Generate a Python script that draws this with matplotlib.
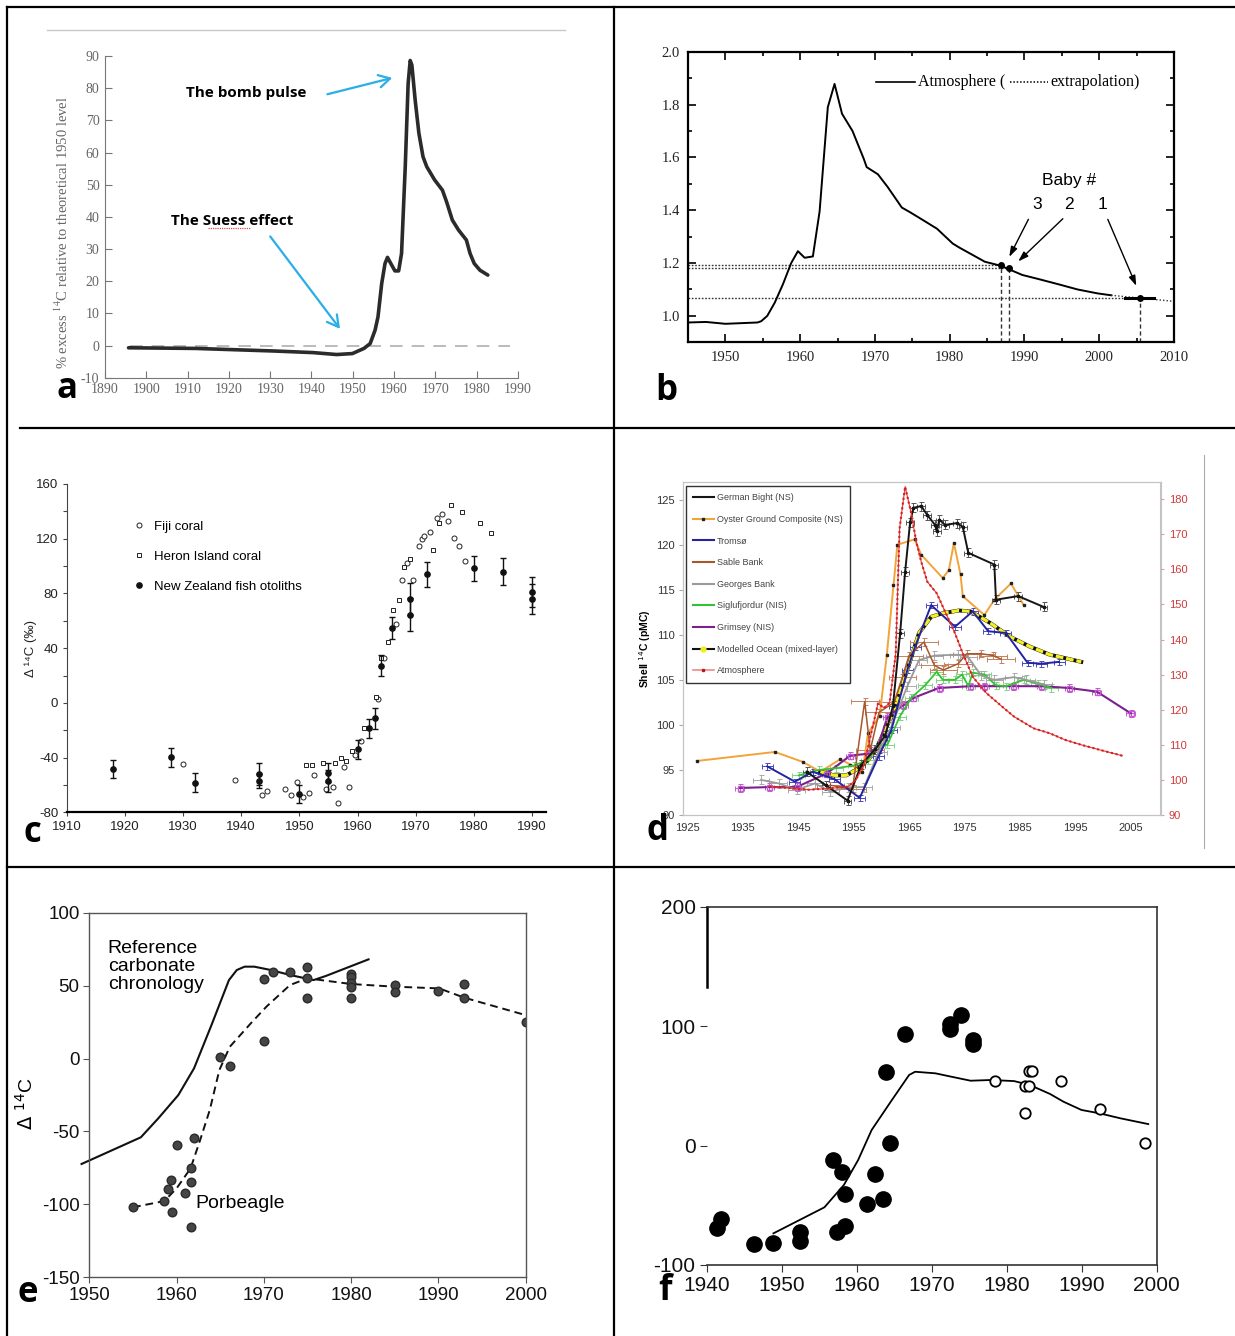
import matplotlib
matplotlib.use("Agg")
import matplotlib.pyplot as plt
from matplotlib import font_manager
from matplotlib.lines import Line2D
from matplotlib.ticker import MultipleLocator

W, H = 1235, 1336

# a: % excess 14C relative to the theoretical 1950 level
a_year = [1895.7, 1911.9, 1930.9, 1940.4, 1946.1, 1949.9, 1952.7, 1954.2, 1955.4, 1956.1,
          1957.0, 1957.8, 1958.4, 1959.2, 1960.2, 1961.1, 1961.8, 1962.7, 1963.4, 1963.9,
          1964.3, 1965.1, 1966.0, 1967.0, 1967.9, 1969.8, 1971.7, 1972.7, 1974.1, 1975.6,
          1977.5, 1978.4, 1979.4, 1980.8, 1982.7]
a_excess = [-0.7, -0.9, -1.7, -2.2, -2.8, -2.5, -0.9, 0.6, 4.8, 8.9,
            19.3, 25.5, 27.4, 25.5, 23.2, 23.2, 28.6, 55.6, 81.5, 88.6,
            87.2, 76.3, 66.0, 58.7, 55.6, 51.5, 48.3, 44.7, 39.0, 35.9,
            32.8, 28.6, 25.5, 23.4, 21.9]

# b: atmospheric 14C (fraction modern) and three babies
b_year = [1945, 1947.4, 1950, 1954.3, 1954.8, 1955.6, 1956.6, 1957.7, 1958.8, 1959.7,
          1960.6, 1961.7, 1962.6, 1963.7, 1964.6, 1965.6, 1967.0, 1968.5, 1968.9, 1970.4,
          1971.7, 1973.6, 1974.6, 1976.0, 1978.3, 1980.4, 1981.2, 1984.7, 1986.8, 1989.7,
          1991.8, 1994.5, 1997.1, 1999.8, 2001.6]
b_fm = [0.975, 0.977, 0.970, 0.975, 0.980, 1.000, 1.050, 1.120, 1.200, 1.245,
        1.220, 1.225, 1.395, 1.790, 1.878, 1.765, 1.700, 1.595, 1.563, 1.536,
        1.488, 1.410, 1.394, 1.370, 1.330, 1.274, 1.260, 1.205, 1.190, 1.155,
        1.140, 1.120, 1.100, 1.085, 1.078]
b_ext_year = [2001.6, 2010]
b_ext_fm = [1.078, 1.055]
baby_year = [2005.4, 1987.9, 1986.9]
baby_fm = [1.069, 1.182, 1.192]
baby_names = ["1", "2", "3"]

# c: Fiji coral, Heron Island coral, New Zealand fish otoliths
fiji_year = [1930, 1939, 1943.5, 1944.5, 1947.6, 1948.6, 1949.6, 1950.6, 1951.6, 1952.6,
             1954.6, 1955.7, 1956.6, 1957.6, 1958.6, 1959.6, 1960.6, 1963.5, 1964.5, 1966.6,
             1967.6, 1968.5, 1969.5, 1970.5, 1971.0, 1971.5, 1972.5, 1973.6, 1974.5, 1975.5,
             1976.5, 1977.5, 1978.5]
fiji_d14c = [-44.7, -56.4, -67.3, -64.4, -62.7, -67.3, -57.8, -68.5, -65.6, -52.7,
             -62.7, -61.7, -72.9, -47.1, -61.7, -38.1, -27.6, 2.6, 33.1, 57.7,
             89.8, 102.5, 89.8, 114.7, 119.8, 122.0, 124.9, 134.9, 137.8, 133.0,
             120.8, 114.7, 103.5]
heron_year = [1951.1, 1952.1, 1954.1, 1956.1, 1957.1, 1958.1, 1959.1, 1961.1, 1963.1, 1964.1,
              1965.2, 1966.1, 1967.1, 1968.0, 1969.1, 1973.0, 1974.0, 1976.0, 1978.0, 1981.0,
              1983.0]
heron_d14c = [-45.4, -45.4, -43.7, -44.2, -40.5, -42.2, -34.9, -18.6, 4.6, 33.1,
              44.5, 67.9, 75.2, 99.6, 105.2, 111.8, 131.3, 144.7, 139.8, 131.3,
              124.4]
oto_year = [1918, 1928, 1932, 1943, 1943, 1950, 1955, 1955, 1960, 1962,
            1963, 1964, 1966, 1969, 1969, 1972, 1980, 1985, 1990, 1990]
oto_d14c = [-48.6, -39.8, -58.3, -52.0, -57.0, -66.6, -51.0, -57.0, -34.0, -18.6,
            -11.3, 27.2, 54.5, 75.7, 64.3, 94.0, 98.4, 95.9, 80.8, 75.9]
oto_err = [6.5, 7.0, 7.0, 8.0, 5.0, 6.5, 6.8, 7.9, 7.0, 7.0,
           7.5, 7.7, 8.0, 11.7, 12.0, 9.0, 9.0, 10.0, 11.0, 10.9]

# d: shell 14C (pMC) by site; atmosphere on the right-hand axis
german_year = [1946.5, 1950.0, 1953.9, 1956.4, 1958.9, 1960.7, 1962.1, 1963.4, 1964.3, 1965.2,
               1965.8, 1967.2, 1968.3, 1969.7, 1970.0, 1970.5, 1971.5, 1973.6, 1974.7, 1975.7,
               1980.4, 1980.7, 1984.7, 1989.3]
german_pmc = [94.8, 93.3, 91.6, 95.6, 97.3, 98.8, 102.1, 110.2, 117.0, 122.5,
              124.1, 124.3, 123.3, 122.2, 121.5, 122.8, 122.2, 122.4, 122.0, 119.1,
              117.8, 113.9, 114.3, 113.1]
oyster_year = [1926.7, 1940.8, 1945.8, 1949.0, 1952.6, 1954.4, 1956.6, 1957.6, 1959.7, 1961.0,
               1962.2, 1962.9, 1966.0, 1967.2, 1971.1, 1972.2, 1973.1, 1974.3, 1974.7, 1978.6,
               1980.4, 1983.4, 1985.7]
oyster_pmc = [96.0, 97.0, 95.9, 94.8, 96.2, 95.6, 94.8, 99.1, 101.0, 107.8,
              115.5, 120.0, 120.6, 118.9, 116.3, 117.2, 120.2, 116.7, 114.3, 112.2,
              113.9, 115.7, 113.3]
tromso_year = [1939.4, 1944.4, 1947.6, 1951.5, 1956.1, 1959.5, 1961.8, 1964.7, 1966.1, 1969.0,
               1973.3, 1976.5, 1979.3, 1982.5, 1986.4, 1988.9, 1992.1]
tromso_pmc = [95.4, 93.7, 94.8, 94.0, 91.9, 96.5, 99.4, 106.1, 108.7, 113.3,
              110.9, 112.6, 110.4, 110.2, 106.9, 106.8, 107.0]
sable_year = [1950.8, 1954.8, 1957.0, 1958.0, 1959.6, 1962.3, 1963.8, 1965.0, 1967.7, 1969.6,
              1971.2, 1973.9, 1975.4, 1978.0, 1980.2, 1981.6]
sable_pmc = [93.3, 92.9, 102.6, 97.2, 101.4, 102.5, 105.3, 107.7, 109.2, 106.6,
             106.1, 106.8, 107.9, 107.9, 107.7, 107.3]
georges_year = [1938.3, 1941.5, 1944.7, 1948.0, 1950.8, 1954.0, 1956.9, 1959.5, 1961.8, 1964.7,
                1966.8, 1969.6, 1973.9, 1975.7, 1978.0, 1980.4, 1983.9, 1986.2, 1989.3]
georges_pmc = [93.9, 93.5, 92.8, 93.5, 92.6, 93.1, 93.1, 97.0, 99.8, 104.3,
               107.2, 107.7, 107.8, 107.5, 105.5, 105.0, 105.3, 105.0, 104.5]
siglu_year = [1945.1, 1948.7, 1951.9, 1955.1, 1957.6, 1959.4, 1961.1, 1963.3, 1965.4, 1967.9,
              1970.0, 1971.1, 1973.3, 1974.6, 1975.7, 1976.5, 1978.6, 1980.7, 1982.5, 1985.7,
              1988.2, 1990.7]
siglu_pmc = [94.4, 95.0, 95.2, 95.5, 96.1, 97.8, 97.8, 100.9, 103.0, 104.4,
             105.9, 105.0, 105.0, 105.6, 104.3, 105.8, 105.6, 104.4, 104.3, 105.0,
             104.6, 104.1]
grimsey_year = [1934.4, 1939.8, 1944.7, 1950.1, 1954.4, 1957.6, 1959.4, 1961.1, 1964.0, 1965.8,
                1970.4, 1976.1, 1978.6, 1983.8, 1988.9, 1993.9, 1998.9, 2005.0]
grimsey_pmc = [93.0, 93.1, 93.1, 94.6, 96.6, 96.8, 97.6, 100.9, 102.2, 103.0,
               104.1, 104.3, 104.3, 104.3, 104.3, 104.1, 103.7, 101.3]
model_year = [1949.0, 1951.5, 1953.7, 1955.4, 1957.6, 1959.0, 1960.4, 1961.8, 1963.3, 1965.1,
              1966.8, 1969.0, 1971.1, 1974.0, 1976.1, 1979.7, 1983.2, 1986.8, 1990.4, 1996.1]
model_pmc = [94.8, 94.4, 94.4, 95.0, 96.1, 97.2, 99.1, 100.9, 103.5, 106.9,
             110.2, 112.0, 112.4, 112.7, 112.6, 111.3, 109.8, 108.7, 107.8, 107.0]
atm_year = [1939.8, 1944.0, 1947.0, 1950.8, 1954.0, 1955.4, 1956.9, 1958.3, 1959.4, 1960.5,
            1961.5, 1962.6, 1963.3, 1964.3, 1965.4, 1966.3, 1967.2, 1968.3, 1970.0, 1971.1,
            1973.3, 1974.7, 1976.5, 1979.0, 1981.8, 1984.0, 1987.5, 1990.4, 1993.2, 1996.1,
            1999.6, 2003.5]
atm_pmc = [98.1, 97.6, 97.2, 97.6, 98.1, 100.0, 104.3, 114.2, 121.8, 120.5,
           122.0, 136.0, 171.7, 183.6, 176.0, 168.0, 162.2, 156.5, 153.2, 149.4,
           141.8, 136.1, 129.4, 124.7, 120.9, 118.0, 114.7, 113.3, 111.4, 110.0,
           108.5, 106.9]

# e: porbeagle vertebrae vs reference carbonate chronology
ref_year = [1949.1, 1955.9, 1957.9, 1960.2, 1962.0, 1964.0, 1966.0, 1966.9, 1967.8, 1968.9,
            1970.8, 1973.0, 1975.7, 1977.1, 1982.0]
ref_d14c = [-72.3, -54.0, -41.0, -25.0, -6.7, 23.0, 53.8, 60.7, 63.0, 63.0,
            60.7, 57.3, 53.8, 56.6, 68.0]
porb_fit_year = [1955.0, 1958.6, 1960.0, 1961.6, 1962.7, 1963.8, 1964.9, 1966.1, 1968.5, 1970.3,
                 1973.0, 1975.0, 1980.0, 1984.9, 1990.1, 1993.0, 2000.0]
porb_fit_d14c = [-102.0, -97.7, -89.0, -75.3, -55.8, -35.3, -7.9, 8.1, 24.1, 35.6,
                 50.4, 55.0, 51.1, 49.3, 48.1, 41.7, 29.8]
porb_year = [1955.0, 1958.6, 1959.0, 1959.4, 1959.5, 1960.0, 1961.0, 1961.6, 1961.6, 1961.6,
             1962.0, 1965.0, 1966.1, 1970.0, 1970.0, 1971.0, 1973.0, 1975.0, 1975.0, 1975.0,
             1980.0, 1980.0, 1980.0, 1980.0, 1980.0, 1985.0, 1985.0, 1990.0, 1993.0, 1993.0,
             2000.0]
porb_d14c = [-102.0, -97.7, -89.7, -83.3, -105.4, -59.3, -92.0, -75.3, -84.6, -115.3,
             -54.7, 1.3, -4.9, 54.8, 12.0, 59.1, 59.6, 63.0, 55.0, 41.7,
             58.0, 55.7, 52.0, 48.8, 41.7, 50.4, 45.6, 46.3, 51.1, 41.7,
             25.3]

# f: filled = early samples, open = later samples, line = reference curve
f_fill_year = [1941.4, 1941.9, 1946.3, 1948.9, 1952.4, 1952.4, 1956.8, 1957.4, 1958.0, 1958.5,
               1958.5, 1961.4, 1962.4, 1963.5, 1963.9, 1964.4, 1966.5, 1972.4, 1972.4, 1973.9,
               1975.5, 1975.5]
f_fill_d14c = [-69.3, -61.5, -82.4, -81.9, -72.1, -79.7, -12.1, -72.7, -21.9, -40.6,
               -67.4, -49.2, -23.8, -44.8, 61.3, 1.8, 93.1, 101.8, 97.3, 109.3,
               88.4, 85.0]
f_open_year = [1978.4, 1982.4, 1983.0, 1982.4, 1983.0, 1983.4, 1987.3, 1992.5, 1998.4]
f_open_d14c = [54.3, 50.1, 50.1, 27.5, 62.4, 62.4, 54.3, 30.6, 1.8]
f_line_year = [1948.9, 1955.7, 1958.3, 1960.2, 1962.0, 1964.7, 1967.0, 1967.8, 1970.5, 1972.6,
               1975.2, 1977.9, 1981.0, 1983.1, 1985.8, 1987.6, 1990.0, 1992.4, 1995.2, 1998.9]
f_line_d14c = [-73.5, -51.7, -33.0, -12.1, 13.0, 38.1, 59.1, 61.8, 60.5, 57.7,
               54.3, 54.9, 54.0, 50.7, 43.2, 36.7, 29.8, 27.0, 22.8, 18.0]

plt.rcParams["axes.unicode_minus"] = False
fonts = {f.name for f in font_manager.fontManager.ttflist}
NARROW = "Liberation Sans Narrow" if "Liberation Sans Narrow" in fonts else "Liberation Sans"

fig = plt.figure(figsize=(W / 100, H / 100), dpi=100)


def rect(x0, y0, x1, y1):
    # pixel box with a top-left origin -> add_axes rectangle
    return [x0 / W, 1 - y1 / H, (x1 - x0) / W, (y1 - y0) / H]


def fig_line(x0, y0, x1, y1, **kw):
    fig.add_artist(Line2D([x0 / W, x1 / W], [1 - y0 / H, 1 - y1 / H],
                          transform=fig.transFigure, **kw))


def letter(ch, x, y):
    fig.text(x / W, 1 - y / H, ch, fontsize=25, fontweight="bold",
             family="Open Sans", ha="center", va="baseline")


def tick_font(ax, family, size, color="black"):
    for lbl in ax.get_xticklabels() + ax.get_yticklabels():
        lbl.set_family(family)
        lbl.set_fontsize(size)
        lbl.set_color(color)


# ---------------- a ----------------
ax = fig.add_axes(rect(105, 56, 518, 377.7))
ax.hlines(0, 1896, 1988, colors="#b5b5b5", linestyles=(0, (7, 5)), lw=1.3)
ax.plot(a_year, a_excess, color="#2b2b2b", lw=2.6,
        solid_capstyle="round", solid_joinstyle="round")
ax.set_xlim(1890, 1990)
ax.set_ylim(-10, 90)
ax.set_xticks(range(1890, 1991, 10))
ax.set_yticks(range(-10, 91, 10))
for s in ("top", "right"):
    ax.spines[s].set_visible(False)
for s in ("left", "bottom"):
    ax.spines[s].set_color("#777")
ax.tick_params(direction="in", length=5, color="#777", pad=4)
tick_font(ax, "Liberation Serif", 10, "#666")
ax.set_ylabel(r"% excess $^{14}$C relative to theoretical 1950 level",
              family="Liberation Serif", fontsize=10.5, color="#666",
              math_fontfamily="stix")
ax.yaxis.set_label_coords(-0.082, 0.453)
ax.text(1909.5, 78.6, "The bomb pulse", fontsize=11, fontweight="bold",
        family="Open Sans", va="center")
ax.annotate("", xy=(1960.2, 83.4), xytext=(1943.2, 77.9),
            arrowprops=dict(arrowstyle="->,head_length=0.8,head_width=0.45",
                            color="#2aaee6", lw=1.6))
ax.text(1906, 38.8, "The Suess effect", fontsize=11, fontweight="bold",
        family="Open Sans", va="center")
ax.plot([1915.0, 1925.0], [36.5, 36.5], color="#e05050", lw=0.9, ls=(0, (1, 0.8)))
ax.annotate("", xy=(1947.3, 4.5), xytext=(1929.6, 34.6),
            arrowprops=dict(arrowstyle="->,head_length=0.8,head_width=0.45",
                            color="#2aaee6", lw=1.6))
fig_line(47, 30, 565, 30, color="#c8c8c8", lw=1)

# ---------------- b ----------------
ax = fig.add_axes(rect(688, 51.7, 1174, 342.3))
ax.hlines(baby_fm, 1945, baby_year, colors="#333", linestyles=(0, (1.2, 1.2)), lw=1)
ax.vlines(baby_year, 0.9, baby_fm, colors="#333", linestyles=(0, (3, 2)), lw=1)
ax.plot(b_year, b_fm, color="black", lw=1.4)
ax.plot(b_ext_year, b_ext_fm, color="#333", lw=1, ls=(0, (1, 1.5)))
ax.plot([2003.5, 2007.3], [baby_fm[0], baby_fm[0]], color="black", lw=2.2)
ax.plot(baby_year, baby_fm, "o", color="black", ms=4)
ax.set_xlim(1945, 2010)
ax.set_ylim(0.9, 2.0)
ax.set_xticks(range(1950, 2011, 10))
ax.set_yticks([1.0, 1.2, 1.4, 1.6, 1.8, 2.0])
ax.set_yticklabels(["1.0", "1.2", "1.4", "1.6", "1.8", "2.0"])
ax.xaxis.set_minor_locator(MultipleLocator(5))
ax.yaxis.set_minor_locator(MultipleLocator(0.1))
ax.tick_params(which="both", direction="in", top=True, right=True, width=1.2)
ax.tick_params(which="major", length=6, pad=6)
ax.tick_params(which="minor", length=3)
for s in ax.spines.values():
    s.set_linewidth(1.6)
tick_font(ax, "Liberation Serif", 10.5, "#222")
ax.plot([1970.1, 1975.4], [1.884, 1.884], color="black", lw=1.2)
ax.text(1975.8, 1.884, "Atmosphere (", family="Liberation Serif", fontsize=11.5, va="center")
ax.plot([1988.1, 1993.1], [1.884, 1.884], color="black", lw=1.1, ls=(0, (1, 1.2)))
ax.text(1993.4, 1.884, "extrapolation)", family="Liberation Serif", fontsize=11.5, va="center")
ax.text(1996.0, 1.513, "Baby #", family="Liberation Sans", fontsize=12.5, ha="center", va="center")
label_x = [2000.5, 1996.0, 1991.7]
arrow_from = [(2001.0, 1.375), (1995.4, 1.375), (1990.7, 1.375)]
arrow_to = [(2005.1, 1.104), (1988.9, 1.199), (1987.8, 1.214)]
for name, lx, p0, p1 in zip(baby_names, label_x, arrow_from, arrow_to):
    ax.text(lx, 1.423, name, family="Liberation Sans", fontsize=12.5, ha="center", va="center")
    ax.annotate("", xy=p1, xytext=p0,
                arrowprops=dict(arrowstyle="-|>,head_length=0.6,head_width=0.2",
                                color="black", lw=1))

# ---------------- c ----------------
ax = fig.add_axes(rect(66.7, 484, 546, 812.3))
h_fiji, = ax.plot(fiji_year, fiji_d14c, "o", mfc="white", mec="#222", ms=3.6, mew=0.7,
                  ls="none", label="Fiji coral")
h_heron, = ax.plot(heron_year, heron_d14c, "s", mfc="white", mec="#222", ms=3.4, mew=0.7,
                   ls="none", label="Heron Island coral")
oto = ax.errorbar(oto_year, oto_d14c, yerr=oto_err, fmt="o", ms=3.8, color="#111",
                  elinewidth=1, capsize=2.2, capthick=1)
ax.set_xlim(1910, 1992.4)
ax.set_ylim(-80, 160)
ax.set_xticks(range(1910, 1991, 10))
ax.set_yticks(range(-80, 161, 40))
ax.yaxis.set_minor_locator(MultipleLocator(20))
for s in ("top", "right"):
    ax.spines[s].set_visible(False)
ax.spines["bottom"].set_linewidth(1.6)
ax.spines["left"].set_linewidth(0.8)
ax.spines["left"].set_color("#444")
ax.tick_params(which="both", direction="out", length=3, width=0.8, color="#444", pad=3)
tick_font(ax, NARROW, 9.5, "#222")
ax.set_ylabel("Δ ¹⁴C (‰)", family=[NARROW, "DejaVu Sans"], fontsize=9.5, color="#222")
ax.yaxis.set_label_coords(-0.062, 0.5)
ax.legend([h_fiji, h_heron, oto[0]],
          ["Fiji coral", "Heron Island coral", "New Zealand fish otoliths"],
          loc="upper left", bbox_to_anchor=(0.138, 0.888), frameon=False,
          borderpad=0, borderaxespad=0, handlelength=1.0, handletextpad=0.6,
          labelspacing=1.35, prop={"family": NARROW, "size": 9.5})

# ---------------- d ----------------
ax = fig.add_axes(rect(683, 481.7, 1160.5, 815))
ar = ax.twinx()
err = dict(capsize=1.8, elinewidth=0.7, capthick=0.7)
ax.errorbar(grimsey_year, grimsey_pmc, xerr=0.8, yerr=0.4, color="#7d1f8f", lw=1.5,
            marker="s", ms=3.6, mfc="none", mec="#c35ad0", ecolor="#c35ad0", **err)
ax.errorbar(siglu_year, siglu_pmc, xerr=1.2, yerr=0.4, color="#36c236", lw=1.3,
            ecolor="#7fd67f", **err)
ax.errorbar(georges_year, georges_pmc, xerr=1.5, yerr=0.5, color="#9a9a9a", lw=1.3,
            ecolor="#aaaaaa", **err)
ax.errorbar(sable_year, sable_pmc, xerr=2.5, yerr=0.4, color="#a8572c", lw=1.1,
            ecolor="#c4825e", **err)
ax.errorbar(tromso_year, tromso_pmc, xerr=1.0, yerr=0.35, color="#2424a0", lw=1.4,
            ecolor="#4a4ac0", **err)
ax.plot(oyster_year, oyster_pmc, color="#f2a33a", lw=1.4, marker="s", ms=1.8,
        mfc="#222", mec="#222")
ax.plot(model_year, model_pmc, color="#111", lw=2.8)
ax.plot(model_year, model_pmc, color="#f5f020", lw=2.3, ls=(0, (2.4, 0.9)))
ax.errorbar(german_year, german_pmc, xerr=0.7, yerr=0.5, color="#151515", lw=1.4,
            marker="s", ms=1.6, ecolor="#555", **err)
ar.plot(atm_year, atm_pmc, color="#e23a3a", lw=0.8)
ar.plot(atm_year, atm_pmc, color="#d81e1e", lw=1.5, ls=(0, (1, 1.3)))
ax.set_xlim(1924.2, 2010.4)
ax.set_ylim(90, 127)
ar.set_ylim(90, 185)
ax.set_xticks(range(1925, 2006, 10))
ax.set_yticks(range(90, 126, 5))
ar.set_yticks(range(90, 181, 10))
for a_ in (ax, ar):
    for s in a_.spines.values():
        s.set_color("#c4c4c4")
        s.set_linewidth(0.8)
ax.tick_params(axis="x", length=0, pad=6)
ax.tick_params(axis="y", length=3, color="#aaa", pad=3)
ar.tick_params(axis="y", length=3, color="#e0a0a0", pad=3)
tick_font(ax, "Liberation Sans", 8, "#333")
for lbl in ar.get_yticklabels():
    lbl.set_family("Liberation Sans")
    lbl.set_fontsize(8)
    lbl.set_color("#d03a3a")
ax.set_ylabel(r"Shell $^{14}$C (pMC)", family="Liberation Sans", fontsize=7.5,
              fontweight="bold", labelpad=2)
d_handles = [
    Line2D([], [], color="#151515", lw=1.5),
    Line2D([], [], color="#f2a33a", lw=1.5, marker="s", ms=2, mfc="#222", mec="#222"),
    Line2D([], [], color="#2424a0", lw=1.5),
    Line2D([], [], color="#a8572c", lw=1.5),
    Line2D([], [], color="#9a9a9a", lw=1.5),
    Line2D([], [], color="#36c236", lw=1.5),
    Line2D([], [], color="#7d1f8f", lw=1.5),
    Line2D([], [], color="#111", lw=1.5, marker="o", ms=3.5, mfc="#f2ee1a", mec="#f2ee1a"),
    Line2D([], [], color="#f08a8a", lw=1.2, marker="s", ms=2, mfc="#c01818", mec="#c01818"),
]
d_labels = ["German Bight (NS)", "Oyster Ground Composite (NS)", "Tromsø", "Sable Bank",
            "Georges Bank", "Siglufjordur (NIS)", "Grimsey (NIS)",
            "Modelled Ocean (mixed-layer)", "Atmosphere"]
leg = ar.legend(d_handles, d_labels, loc="upper left", bbox_to_anchor=(0.006, 0.987),
                borderaxespad=0, borderpad=0.8, handlelength=2.3, handletextpad=0.35,
                labelspacing=1.4, fancybox=False, framealpha=1,
                prop={"family": "Liberation Sans", "size": 6.5})
leg.get_frame().set_edgecolor("#333")
leg.get_frame().set_linewidth(1)
for t in leg.get_texts():
    t.set_color("#444")
fig_line(1204, 455, 1204, 848, color="#aaa", lw=0.8)

# ---------------- e ----------------
ax = fig.add_axes(rect(89.4, 912.7, 525.5, 1277.3))
ax.plot(ref_year, ref_d14c, color="#111", lw=1.5, clip_on=False)
ax.plot(porb_fit_year, porb_fit_d14c, color="#111", lw=1.4, ls=(0, (4, 2.5)))
ax.plot(porb_year, porb_d14c, "o", color="#454545", mec="#2a2a2a", ms=6.2, ls="none")
ax.set_xlim(1950, 2000)
ax.set_ylim(-150, 100)
ax.set_xticks(range(1950, 2001, 10))
ax.set_yticks(range(-150, 101, 50))
for s in ax.spines.values():
    s.set_color("#555")
    s.set_linewidth(1)
ax.tick_params(direction="out", length=4, color="#555", pad=3)
tick_font(ax, "Liberation Sans", 13.5, "#111")
ax.set_ylabel(r"$\Delta\ ^{14}$C", family="Liberation Sans", fontsize=14)
ax.yaxis.set_label_coords(-0.12, 0.478)
ax.text(1952.1, 81, "Reference\ncarbonate\nchronology", family="Liberation Sans",
        fontsize=14, va="top", linespacing=1.05)
ax.text(1962.1, -99.3, "Porbeagle", family="Liberation Sans", fontsize=14, va="center")

# ---------------- f ----------------
ax = fig.add_axes(rect(706.7, 906.7, 1156.5, 1265))
ax.plot(f_line_year, f_line_d14c, color="black", lw=1.3)
ax.plot(f_fill_year, f_fill_d14c, "o", color="black", ms=11, ls="none")
ax.plot(f_open_year, f_open_d14c, "o", mfc="white", mec="black", ms=7.5, mew=1.3, ls="none")
ax.set_xlim(1940, 2000)
ax.set_ylim(-100, 200)
ax.set_xticks(range(1940, 2001, 10))
ax.set_yticks([-100, 0, 100, 200])
for s in ax.spines.values():
    s.set_color("#333")
    s.set_linewidth(1.2)
ax.spines["left"].set_bounds(133, 200)
ax.spines["left"].set_linewidth(1.8)
ax.spines["left"].set_color("black")
ax.tick_params(direction="out", length=5, color="#333", pad=3)
tick_font(ax, "Liberation Sans", 15, "#111")

# panel frame and letters
for seg in [(7, 7, 1235, 7), (7, 7, 7, 1336), (614, 7, 614, 1336),
            (20, 428, 1235, 428), (7, 867, 1235, 867)]:
    fig_line(*seg, color="black", lw=1.6)
for ch, x, y in [("a", 67, 398), ("b", 666, 400), ("c", 32, 842),
                 ("d", 657, 840), ("e", 28, 1302), ("f", 665, 1300)]:
    letter(ch, x, y)

fig.savefig("out.png", dpi=100)
